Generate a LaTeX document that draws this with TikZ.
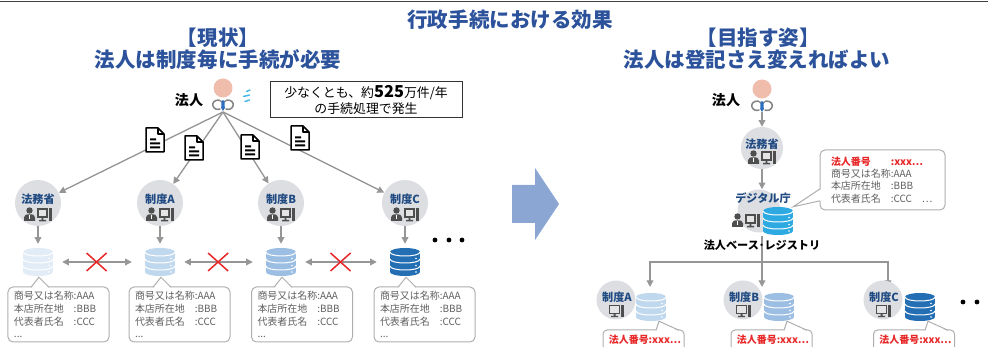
\documentclass[tikz,border=0pt]{standalone}
\usepackage{fontspec}
\setmainfont{Noto Sans CJK JP}
\usetikzlibrary{arrows.meta,calc}

\definecolor{headblue}{RGB}{44,82,155}
\definecolor{orgblue}{RGB}{32,74,130}
\definecolor{orgfill}{RGB}{220,222,226}
\definecolor{linkgray}{RGB}{150,150,150}
\definecolor{icongray}{RGB}{78,78,78}
\definecolor{facepink}{RGB}{240,188,172}
\definecolor{tieblue}{RGB}{45,110,190}
\definecolor{sweatblue}{RGB}{70,185,230}
\definecolor{ngred}{RGB}{232,40,40}
\definecolor{memogray}{RGB}{95,95,95}
\definecolor{memoline}{RGB}{175,175,175}
\definecolor{shiftblue}{RGB}{140,166,212}
\definecolor{dbPale}{RGB}{226,236,246}
\definecolor{dbLight}{RGB}{192,216,238}
\definecolor{dbMid}{RGB}{156,190,226}
\definecolor{dbDeep}{RGB}{36,110,180}
\definecolor{dbCyan}{RGB}{45,170,226}

\tikzset{
  hd/.style={font=\fontsize{17.5}{20}\selectfont\bfseries, text=headblue, inner sep=0},
  who/.style={font=\fontsize{12}{14}\selectfont\bfseries, inner sep=0},
  reg/.style={font=\fontsize{9.5}{11}\selectfont\bfseries, inner sep=0},
  agency/.style={circle, fill=orgfill, minimum size=13.8mm, inner sep=0},
  agencytxt/.style={font=\fontsize{9.5}{11}\selectfont\bfseries, text=orgblue, inner sep=0},
  dbnode/.style={minimum width=9mm, minimum height=8.4mm, inner sep=0},
  link/.style={draw=linkgray, line width=0.4mm, -{Triangle[length=2mm,width=2mm]}},
  twoway/.style={link, {Triangle[length=2mm,width=2mm]}-{Triangle[length=2mm,width=2mm]},
    shorten <=2.7mm, shorten >=3.9mm},
  ng/.style={draw=ngred, line width=0.45mm},
  vol/.style={draw=black!80, line width=0.3mm, minimum width=57.6mm, minimum height=10.8mm,
    align=center, font=\fontsize{11}{13.7}\selectfont, inner sep=0},
  memo/.style={draw=memoline, line width=0.3mm, rounded corners=1.5mm, fill=white,
    text=memogray, align=left, font=\fontsize{8.5}{11}\selectfont,
    text width=26.7mm, inner xsep=1.8mm, minimum height=16.5mm},
  tailline/.style={draw=memoline, line width=0.3mm},
  tagbox/.style={draw=memoline, line width=0.3mm, rounded corners=1.2mm, fill=white,
    minimum width=24.3mm, minimum height=9mm},
  tagtxt/.style={font=\fontsize{8.5}{10}\selectfont\bfseries, text=ngred, inner sep=0},
  % stacked discs
  pics/dbstack/.style={code={
    \fill[#1] (-15,-10) rectangle (15,10);
    \fill[#1] (0,-10) ellipse (15 and 4);
    \fill[#1] (0,10) ellipse (15 and 4);
    \foreach \rim in {-6,1,8}
      \draw[white, line width=0.3mm] (-15,\rim-4) .. controls (-15,\rim+1.33) and (15,\rim+1.33) .. (15,\rim-4);
    \foreach \py in {-3.5,3.5,10}
      \fill[white] (11,\py) circle (0.9);
  }},
  pics/corp/.style={code={
    \fill[facepink] (0,0) circle (9.5);
    \draw[icongray!70, line width=0.45mm, line join=round, line cap=round]
      (-4,12) .. controls (-9,12) and (-11,15) .. (-10,18) .. controls (-9,21) and (-6,22) .. (-3,21)
      (4,12) .. controls (9,12) and (11,15) .. (10,18) .. controls (9,21) and (6,22) .. (3,21);
    \draw[icongray!70, line width=0.35mm] (-4,12) -- (0,15) -- (4,12);
    \fill[tieblue] (-1.4,12.5) -- (1.4,12.5) -- (1.8,20) -- (0,23) -- (-1.8,20) -- cycle;
  }},
  pics/staff/.style={code={
    \fill[icongray] (-8.5,-3.5) circle (3.2);
    \fill[icongray] (-14,7) -- (-14,3.5) .. controls (-14,1) and (-12,0.3) .. (-8.5,0.3)
      .. controls (-5,0.3) and (-3,1) .. (-3,3.5) -- (-3,7) -- cycle;
    \draw[white, line width=0.25mm] (-8.5,0.6) -- (-8.5,5);
    \fill[icongray] (-1,-6) rectangle (10,4);
    \fill[white!85!icongray] (0.6,-4.4) rectangle (8.4,2.4);
    \fill[icongray] (3.7,4) rectangle (5.3,6) (1,6) rectangle (8,7.3);
    \fill[icongray] (11,-6) rectangle (13.5,7.3);
  }},
  pics/screen/.style={code={
    \fill[icongray] (-7,-6) rectangle (4,3);
    \fill[white!85!icongray] (-5.6,-4.6) rectangle (2.6,1.6);
    \fill[icongray] (-2.5,3) rectangle (-0.5,5) (-5,5) rectangle (2,6.2);
    \fill[icongray] (5,-6) rectangle (7.5,6.2);
  }},
  pics/doc/.style={code={
    \filldraw[fill=white, draw=black, line width=0.45mm, line join=round]
      (-9,-12) -- (3,-12) -- (9,-6) -- (9,12) -- (-9,12) -- cycle;
    \draw[black, line width=0.4mm, line join=round] (3,-12) -- (3,-6) -- (9,-6);
    \fill[black] (-5,-1.5) rectangle (1,0.5) (-5,2.5) rectangle (5,4.5) (-5,6.5) rectangle (5,8.5);
  }},
}

% wedge of a speech box: tip, two base offsets, shift into the box
\newcommand{\calltail}[4]{%
  \fill[white] ($(#1)+(#2)+(#4)$) -- (#1) -- ($(#1)+(#3)+(#4)$) -- cycle;
  \draw[tailline] ($(#1)+(#2)$) -- (#1) -- ($(#1)+(#3)$);
}

\begin{document}
\begin{tikzpicture}[x=0.3mm, y=-0.3mm]
\useasboundingbox (0,0) rectangle (988,347);
\draw[line width=0.55mm, draw=black!75] (0,1.5) -- (988,1.5);
\node[hd] (ttl) at (510,20) {行政手続における効果};

%% now
\node[hd] (nowHd) at (218,38) {【現状】};
\node[hd] (nowSub) at (218,60) {法人は制度毎に手続が必要};
\pic at (223,88) {corp};
\draw[sweatblue, line width=0.45mm, line cap=round]
  (246.5,91.5) -- (250,90) (243.5,96.5) -- (249.5,95) (245,101.5) -- (249.5,100);
\node[who] (corpL) at (189,100) {法人};
\node[vol] (vol) at (366,100) {少なくとも、約{\fontsize{14}{14}\selectfont\bfseries 525}万件/年\\の手続処理で発生};
\coordinate (fanL) at (223,112);

\node[agency] (mojL) at (38,203) {};
\node[agency] (sysAL) at (160,203) {};
\node[agency] (sysBL) at (281,203) {};
\node[agency] (sysCL) at (405,203) {};
\foreach \n in {mojL,sysAL,sysBL,sysCL}
  \draw[link] (fanL) -- (\n);
\foreach \p in {{155,140},{194,148},{250,147},{300,138}}
  \pic at (\p) {doc};
\foreach \n/\t in {mojL/法務省,sysAL/制度A,sysBL/制度B,sysCL/制度C}{
  \node[agencytxt] (\n-t) at ($(\n)+(0,-4)$) {\t};
  \pic at ($(\n)+(0,11)$) {staff};
}

\foreach \k/\x/\c in {1/38/dbPale,2/160/dbLight,3/281/dbMid,4/405/dbDeep}{
  \node[dbnode] (dbL\k) at (\x,262) {};
  \pic at (dbL\k) {dbstack=\c};
}
\foreach \n/\k in {mojL/1,sysAL/2,sysBL/3,sysCL/4}
  \draw[link, shorten >=1.2mm] (\n) -- (dbL\k);

% no link between the registers
\foreach \a/\b in {1/2,2/3,3/4}{
  \draw[twoway] (dbL\a) -- (dbL\b);
  \coordinate (x\a) at ($(dbL\a)!0.48!(dbL\b)$);
  \draw[ng] (x\a) +(-10,-9) -- +(10,9) (x\a) +(-10,9) -- +(10,-9);
}
\foreach \x in {435,449,462}
  \fill (\x,240) circle (2.4);

\foreach \k/\x in {1/58.5,2/179.5,3/302,4/424.5}{
  \node[memo] (recL\k) at (\x,314.5) {商号又は名称:AAA\\本店所在地　:BBB\\代表者氏名　:CCC\\...};
  \coordinate (tipL\k) at ($(dbL\k.south)+(1,1)$);
  \calltail{tipL\k}{-8,10}{10,10}{0,1.2}
}

\fill[shiftblue] (512,185) -- (535,185) -- (535,168) -- (559,204) -- (535,240) -- (535,223) -- (512,223) -- cycle;

%% goal
\node[hd] (goalHd) at (758,38) {【目指す姿】};
\node[hd] (goalSub) at (757,60) {法人は登記さえ変えればよい};
\pic at (762,89) {corp};
\node[who] (corpR) at (726,100) {法人};
\coordinate (fanR) at (762,112);

\node[agency, minimum size=12.6mm] (mojR) at (762,148) {};
\node[agencytxt] (mojR-t) at (762,144) {法務省};
\pic at (762,157) {staff};
\draw[link] (fanR) -- (mojR);

\node[agency, minimum size=12.9mm] (dgR) at (759,211) {};
\draw[link] (mojR) -- (mojR |- dgR.north);
\node[agencytxt] (dgR-t) at (763,198) {デジタル庁};
\pic at (746,220) {staff};
\node[dbnode] (dbDG) at (778,221) {};
\pic at (dbDG) {dbstack=dbCyan};

\coordinate (stem) at (762,236);
\coordinate (brR) at (762,262);
\coordinate (inA) at (650,287);
\coordinate (inB) at (762,287);
\coordinate (inC) at (888,287);
\draw[link] (stem) -- (inB);
\draw[link] (brR) -| (inA);
\draw[link] (brR) -| (inC);
\node[reg] (reg) at (762,245) {法人ベース･レジストリ};

\node[memo, text width=30.9mm, inner xsep=3.3mm, minimum height=18mm,
  font=\fontsize{8.5}{10.5}\selectfont] (recR) at (882.5,180)
  {{\color{ngred}\bfseries 法人番号　　:xxx…}\\商号又は名称:AAA\\本店所在地　:BBB\\代表者氏名　:CCC　…};
\coordinate (tipR) at (dbDG.north east);
\calltail{tipR}{27,-18}{27,-6}{1.2,0}

\foreach \n/\x/\t in {sysAR/616/制度A,sysBR/743/制度B,sysCR/883/制度C}{
  \node[agency, minimum size=11.7mm] (\n) at (\x,300) {};
  \node[agencytxt] (\n-t) at ($(\n)+(1,-3)$) {\t};
  \pic at ($(\n)+(0,11)$) {screen};
}
\foreach \n/\x/\c in {dbAR/651/dbLight,dbBR/779/dbMid,dbCR/920/dbDeep}{
  \node[dbnode] (\n) at (\x,307) {};
  \pic at (\n) {dbstack=\c};
}
\foreach \x in {963,977,991}
  \fill (\x,302) circle (2.4);

\foreach \k/\x/\d in {A/643.5/dbAR,B/771.5/dbBR,C/914/dbCR}{
  \node[tagbox] (tag\k) at (\x,345) {};
  \coordinate (tipR\k) at ($(\d.south)+(8,0)$);
  \calltail{tipR\k}{-3,9}{20,9}{0,1.2}
  \node[tagtxt] (tag\k-t) at (\x+1.5,340) {法人番号:xxx…};
}
\end{tikzpicture}
\end{document}
